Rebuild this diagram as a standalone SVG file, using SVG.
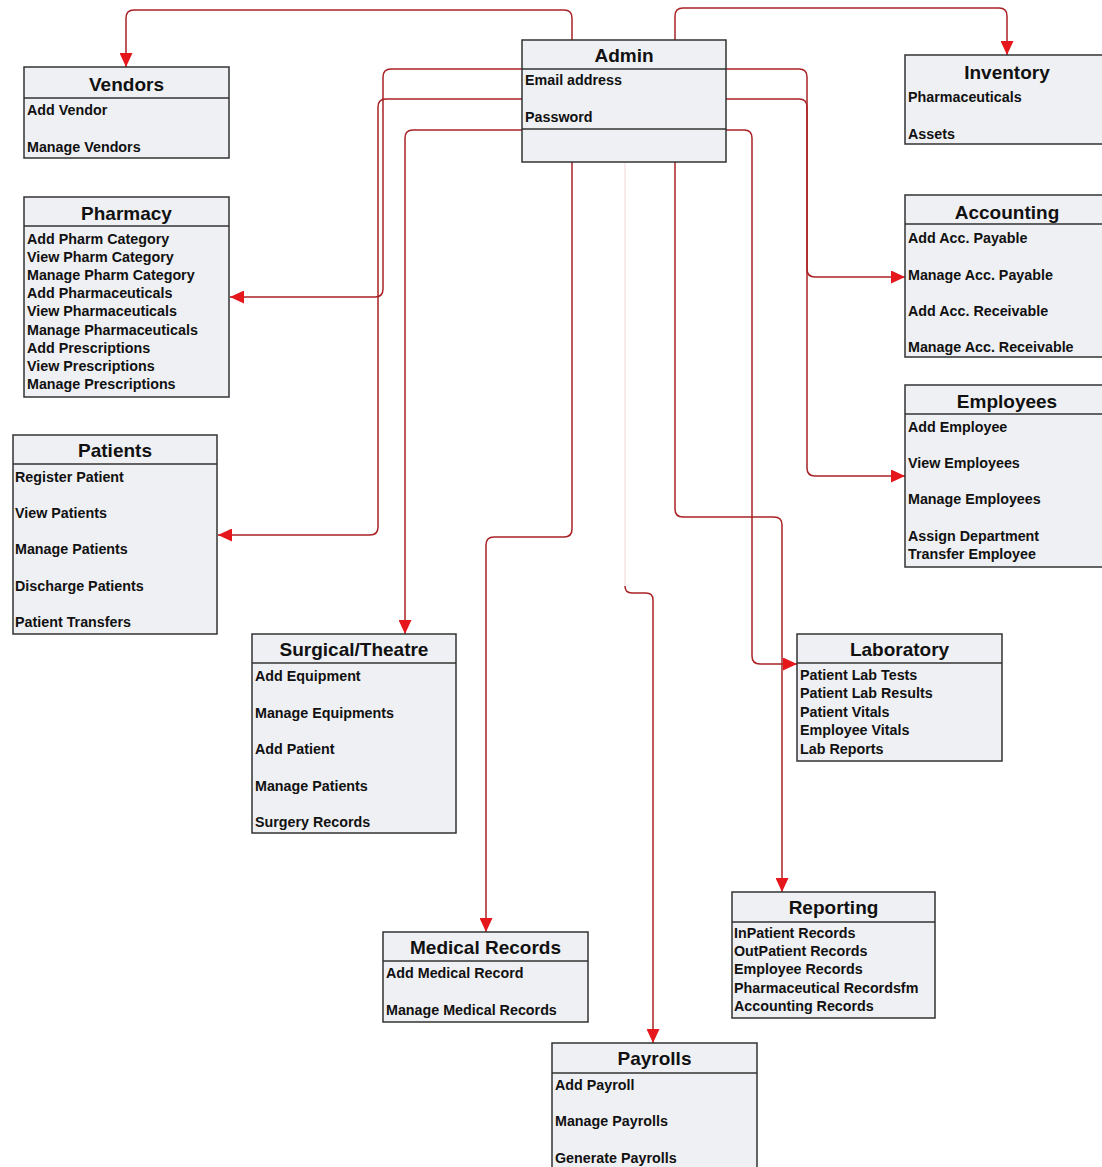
<svg xmlns="http://www.w3.org/2000/svg" width="1102" height="1167" viewBox="0 0 1102 1167">
<defs>
<style>
.box{fill:#eff0f4;stroke:#333;stroke-width:1.5}
.div{stroke:#333;stroke-width:1.5}
.t{font-family:"Liberation Sans",Arial,sans-serif;font-weight:bold;font-size:19px;fill:#111;text-anchor:middle}
.i{font-family:"Liberation Sans",Arial,sans-serif;font-weight:bold;font-size:14.3px;fill:#111}
.c{fill:none;stroke:#a82226;stroke-width:1.5}
.f{fill:none;stroke:#f2dede;stroke-width:1.2}
</style>
<marker id="ah" markerUnits="userSpaceOnUse" markerWidth="14" markerHeight="13" refX="14" refY="6.5" orient="auto">
<path d="M0,0 L14,6.5 L0,13 z" fill="#e5161c"/>
</marker>
</defs>
<rect width="1102" height="1167" fill="#fff"/>
<g id="connectors">
<path class="c" d="M572,40 V18 Q572,10 564,10 H134 Q126,10 126,18 V67" marker-end="url(#ah)"/>
<path class="c" d="M675,40 V16 Q675,8 683,8 H999 Q1007,8 1007,16 V55" marker-end="url(#ah)"/>
<path class="c" d="M522,69 H391 Q383,69 383,77 V289 Q383,297 375,297 H230" marker-end="url(#ah)"/>
<path class="c" d="M522,99 H386 Q378,99 378,107 V527 Q378,535 370,535 H218" marker-end="url(#ah)"/>
<path class="c" d="M522,130 H413 Q405,130 405,138 V634" marker-end="url(#ah)"/>
<path class="c" d="M726,69 H799 Q807,69 807,77 V269 Q807,277 815,277 H905" marker-end="url(#ah)"/>
<path class="c" d="M726,99 H799 Q807,99 807,107 V468 Q807,476 815,476 H905" marker-end="url(#ah)"/>
<path class="c" d="M726,130 H744 Q752,130 752,138 V656 Q752,664 760,664 H797" marker-end="url(#ah)"/>
<path class="c" d="M675,162 V509 Q675,517 683,517 H774 Q782,517 782,525 V892" marker-end="url(#ah)"/>
<path class="c" d="M572,162 V529 Q572,537 564,537 H494 Q486,537 486,545 V932" marker-end="url(#ah)"/>
<path class="f" d="M625,162 V586"/>
<path class="c" d="M625,586 Q625,593 632,593 H646 Q653,593 653,600 V1043" marker-end="url(#ah)"/>
</g>
<g id="admin">
<rect class="box" x="522" y="40" width="204" height="122"/>
<line class="div" x1="522" y1="69" x2="726" y2="69"/>
<line class="div" x1="522" y1="129" x2="726" y2="129"/>
<text class="t" x="624" y="62">Admin</text>
<text class="i" x="525" y="85">Email address</text>
<text class="i" x="525" y="122">Password</text>
</g>
<g id="vendors">
<rect class="box" x="24" y="67" width="205" height="91"/>
<line class="div" x1="24" y1="98" x2="229" y2="98"/>
<text class="t" x="126.5" y="91">Vendors</text>
<text class="i" x="27" y="115">Add Vendor</text>
<text class="i" x="27" y="152">Manage Vendors</text>
</g>
<g id="pharmacy">
<rect class="box" x="24" y="197" width="205" height="200"/>
<line class="div" x1="24" y1="226" x2="229" y2="226"/>
<text class="t" x="126.5" y="220">Pharmacy</text>
<text class="i" x="27" y="244">Add Pharm Category</text>
<text class="i" x="27" y="262">View Pharm Category</text>
<text class="i" x="27" y="280">Manage Pharm Category</text>
<text class="i" x="27" y="298">Add Pharmaceuticals</text>
<text class="i" x="27" y="316">View Pharmaceuticals</text>
<text class="i" x="27" y="334.5">Manage Pharmaceuticals</text>
<text class="i" x="27" y="352.6">Add Prescriptions</text>
<text class="i" x="27" y="370.7">View Prescriptions</text>
<text class="i" x="27" y="388.8">Manage Prescriptions</text>
</g>
<g id="patients">
<rect class="box" x="13" y="435" width="204" height="199"/>
<line class="div" x1="13" y1="464" x2="217" y2="464"/>
<text class="t" x="115" y="457">Patients</text>
<text class="i" x="15" y="482">Register Patient</text>
<text class="i" x="15" y="518">View Patients</text>
<text class="i" x="15" y="554">Manage Patients</text>
<text class="i" x="15" y="591">Discharge Patients</text>
<text class="i" x="15" y="627">Patient Transfers</text>
</g>
<g id="surgical">
<rect class="box" x="252" y="634" width="204" height="199"/>
<line class="div" x1="252" y1="663" x2="456" y2="663"/>
<text class="t" x="354" y="656">Surgical/Theatre</text>
<text class="i" x="255" y="681">Add Equipment</text>
<text class="i" x="255" y="718">Manage Equipments</text>
<text class="i" x="255" y="754">Add Patient</text>
<text class="i" x="255" y="791">Manage Patients</text>
<text class="i" x="255" y="827">Surgery Records</text>
</g>
<g id="inventory">
<rect class="box" x="905" y="55" width="205" height="89"/>
<text class="t" x="1007" y="79">Inventory</text>
<text class="i" x="908" y="102">Pharmaceuticals</text>
<text class="i" x="908" y="139">Assets</text>
</g>
<g id="accounting">
<rect class="box" x="905" y="195" width="205" height="162"/>
<line class="div" x1="905" y1="224" x2="1110" y2="224"/>
<text class="t" x="1007" y="219">Accounting</text>
<text class="i" x="908" y="243">Add Acc. Payable</text>
<text class="i" x="908" y="280">Manage Acc. Payable</text>
<text class="i" x="908" y="316">Add Acc. Receivable</text>
<text class="i" x="908" y="352">Manage Acc. Receivable</text>
</g>
<g id="employees">
<rect class="box" x="905" y="385" width="205" height="182"/>
<line class="div" x1="905" y1="414" x2="1110" y2="414"/>
<text class="t" x="1007" y="408">Employees</text>
<text class="i" x="908" y="432">Add Employee</text>
<text class="i" x="908" y="468">View Employees</text>
<text class="i" x="908" y="504">Manage Employees</text>
<text class="i" x="908" y="541">Assign Department</text>
<text class="i" x="908" y="559">Transfer Employee</text>
</g>
<g id="laboratory">
<rect class="box" x="797" y="634" width="205" height="127"/>
<line class="div" x1="797" y1="663" x2="1002" y2="663"/>
<text class="t" x="899.5" y="656">Laboratory</text>
<text class="i" x="800" y="680">Patient Lab Tests</text>
<text class="i" x="800" y="698">Patient Lab Results</text>
<text class="i" x="800" y="717">Patient Vitals</text>
<text class="i" x="800" y="735">Employee Vitals</text>
<text class="i" x="800" y="754">Lab Reports</text>
</g>
<g id="reporting">
<rect class="box" x="732" y="892" width="203" height="126"/>
<line class="div" x1="732" y1="922" x2="935" y2="922"/>
<text class="t" x="833.5" y="914">Reporting</text>
<text class="i" x="734" y="938">InPatient Records</text>
<text class="i" x="734" y="956">OutPatient Records</text>
<text class="i" x="734" y="974">Employee Records</text>
<text class="i" x="734" y="993">Pharmaceutical Recordsfm</text>
<text class="i" x="734" y="1011">Accounting Records</text>
</g>
<g id="medical-records">
<rect class="box" x="383" y="932" width="205" height="90"/>
<line class="div" x1="383" y1="961" x2="588" y2="961"/>
<text class="t" x="485.5" y="954">Medical Records</text>
<text class="i" x="386" y="978">Add Medical Record</text>
<text class="i" x="386" y="1015">Manage Medical Records</text>
</g>
<g id="payrolls">
<rect class="box" x="552" y="1043" width="205" height="140"/>
<line class="div" x1="552" y1="1073" x2="757" y2="1073"/>
<text class="t" x="654.5" y="1065">Payrolls</text>
<text class="i" x="555" y="1090">Add Payroll</text>
<text class="i" x="555" y="1126">Manage Payrolls</text>
<text class="i" x="555" y="1163">Generate Payrolls</text>
</g>
</svg>
